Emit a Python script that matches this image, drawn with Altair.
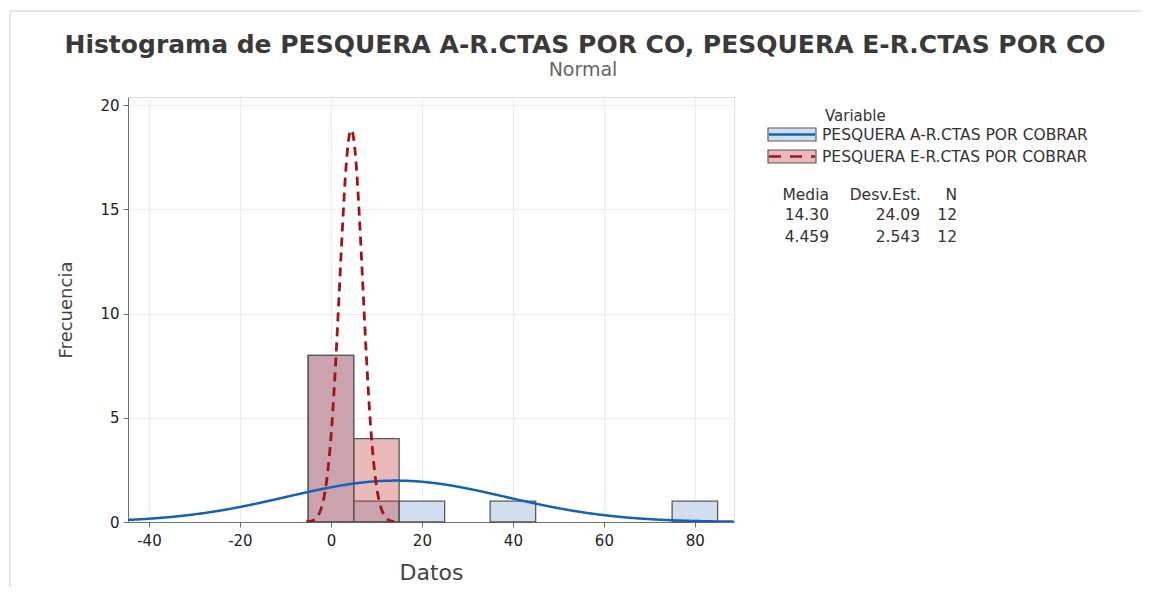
import altair as alt
import pandas as pd

TITLE = "Histograma de PESQUERA A-R.CTAS POR CO, PESQUERA E-R.CTAS POR CO"
SUBTITLE = "Normal"
SERIES = ["PESQUERA A-R.CTAS POR COBRAR", "PESQUERA E-R.CTAS POR COBRAR"]
BIN_WIDTH = 10
A_BIN_START = [-5, 5, 15, 35, 75]
A_COUNTS = [8, 1, 1, 1, 1]
E_BIN_START = [-5, 5]
E_COUNTS = [8, 4]
MEANS = [14.30, 4.459]
MEAN_LABELS = ["14.30", "4.459"]
SDS = [24.09, 2.543]
SD_LABELS = ["24.09", "2.543"]
NS = [12, 12]
STAT_HEADERS = ["Media", "Desv.Est.", "N"]
X_TICKS = [-40, -20, 0, 20, 40, 60, 80]
Y_TICKS = [0, 5, 10, 15, 20]
X_DOMAIN = [-44.6, 88.6]
Y_DOMAIN = [0, 20.4]

BLUE = "#1560b8"
RED = "#a31515"
A_FILL = "#d0def0"
E_FILL = "#c23636"
FONT = "DejaVu Sans"

W, H = 606, 425

xs = alt.Scale(domain=X_DOMAIN, nice=False, zero=False)
ys = alt.Scale(domain=Y_DOMAIN, nice=False)

x_axis = alt.Axis(values=X_TICKS, title="Datos", grid=True, gridColor="#ececec",
                  domainColor="#6e6e6e", tickColor="#6e6e6e", tickSize=5,
                  labelExpr="'' + datum.value",
                  labelFont=FONT, labelFontSize=15, labelColor="#222",
                  titleFont=FONT, titleFontSize=22, titleColor="#444",
                  titleFontWeight="normal", labelPadding=6, titlePadding=14)
y_axis = alt.Axis(values=Y_TICKS, title="Frecuencia", grid=True, gridColor="#ececec",
                  domainColor="#6e6e6e", tickColor="#6e6e6e", tickSize=5,
                  labelFont=FONT, labelFontSize=15, labelColor="#222",
                  titleFont=FONT, titleFontSize=18, titleColor="#444",
                  titleFontWeight="normal", labelPadding=4, titlePadding=24)

a_df = pd.DataFrame({"start": A_BIN_START, "count": A_COUNTS})
a_df["end"] = a_df["start"] + BIN_WIDTH
e_df = pd.DataFrame({"start": E_BIN_START, "count": E_COUNTS})
e_df["end"] = e_df["start"] + BIN_WIDTH

bars_a = alt.Chart(a_df).mark_rect(fill=A_FILL, stroke="#5a5a5a", strokeWidth=1.3).encode(
    x=alt.X("start:Q", scale=xs, axis=x_axis),
    x2="end:Q",
    y=alt.Y("count:Q", scale=ys, axis=y_axis),
    y2=alt.datum(0),
)
bars_e = alt.Chart(e_df).mark_rect(fill=E_FILL, fillOpacity=0.35, stroke="#5a5a5a", strokeWidth=1.3).encode(
    x=alt.X("start:Q", scale=xs),
    x2="end:Q",
    y=alt.Y("count:Q", scale=ys),
    y2=alt.datum(0),
)

def curve(i, lo, hi, color, dash=None, width=2.5):
    expr = f"densityNormal(datum.x, {MEANS[i]}, {SDS[i]}) * {NS[i]} * {BIN_WIDTH}"
    kw = dict(color=color, strokeWidth=width, clip=True)
    if dash:
        kw["strokeDash"] = dash
    return alt.Chart(alt.sequence(lo, hi, 0.1, as_="x")).transform_calculate(
        y=expr).mark_line(**kw).encode(
        x=alt.X("x:Q", scale=xs), y=alt.Y("y:Q", scale=ys))

curve_a = curve(0, X_DOMAIN[0], X_DOMAIN[1] + 0.1, BLUE)
curve_e = curve(1, MEANS[1] - 3.9 * SDS[1], MEANS[1] + 3.7 * SDS[1], RED, dash=[9, 6], width=2.8)

one = pd.DataFrame({"k": [0]})

def txt(s, x, y, align="left", size=15.5, color="#333", weight="normal"):
    return alt.Chart(one).mark_text(align=align, baseline="middle", font=FONT,
                                    fontSize=size, color=color, fontWeight=weight).encode(
        x=alt.value(x), y=alt.value(y), text=alt.value(s))

def box(y0, fill, opacity):
    return alt.Chart(one).mark_rect(fill=fill, fillOpacity=opacity, stroke="#5a5a5a",
                                    strokeWidth=1.2).encode(
        x=alt.value(640), x2=alt.value(688), y=alt.value(y0), y2=alt.value(y0 + 13))

def sym(y0, color, dash=None):
    kw = dict(color=color, strokeWidth=2.5)
    if dash:
        kw["strokeDash"] = dash
    return alt.Chart(one).mark_rule(**kw).encode(
        x=alt.value(641), x2=alt.value(687), y=alt.value(y0 + 6.5))

titles = [
    txt(TITLE, 457, -52, align="center", size=25, color="#3a3a3a", weight="bold"),
    txt(SUBTITLE, 455, -27, align="center", size=19, color="#666"),
]

legend = [
    txt("Variable", 697, 19, size=15),
    box(31, A_FILL, 1.0), sym(31, BLUE), txt(SERIES[0], 694, 37.5),
    box(53, E_FILL, 0.35), sym(53, RED, [12, 9]), txt(SERIES[1], 694, 59.5),
    txt(STAT_HEADERS[0], 701, 98, align="right"),
    txt(STAT_HEADERS[1], 793, 98, align="right"),
    txt(STAT_HEADERS[2], 829, 98, align="right"),
    txt(MEAN_LABELS[0], 701, 118, align="right"),
    txt(SD_LABELS[0], 792, 118, align="right"),
    txt(str(NS[0]), 829, 118, align="right"),
    txt(MEAN_LABELS[1], 701, 140, align="right"),
    txt(SD_LABELS[1], 792, 140, align="right"),
    txt(str(NS[1]), 829, 140, align="right"),
]

# faint outer frame of the graph window (top and left edges)
frame_top = alt.Chart(one).mark_rule(color="#dcdcdc", strokeWidth=1.5).encode(
    x=alt.value(-118), x2=alt.value(1021), y=alt.value(-86))
frame_left = alt.Chart(one).mark_rule(color="#dcdcdc", strokeWidth=1.5).encode(
    x=alt.value(-118), y=alt.value(-86), y2=alt.value(498))

chart = alt.layer(frame_top, frame_left, bars_a, bars_e, curve_a, curve_e,
                  *titles, *legend).properties(
    width=W, height=H,
    autosize=alt.AutoSizeParams(type="none"),
    padding={"left": 120, "top": 89, "right": 407, "bottom": 65},
).configure_view(stroke="#7a7a7a", strokeWidth=1.2).configure(background="white")

chart.save("out.html", embed_options={"renderer": "svg", "actions": False})
